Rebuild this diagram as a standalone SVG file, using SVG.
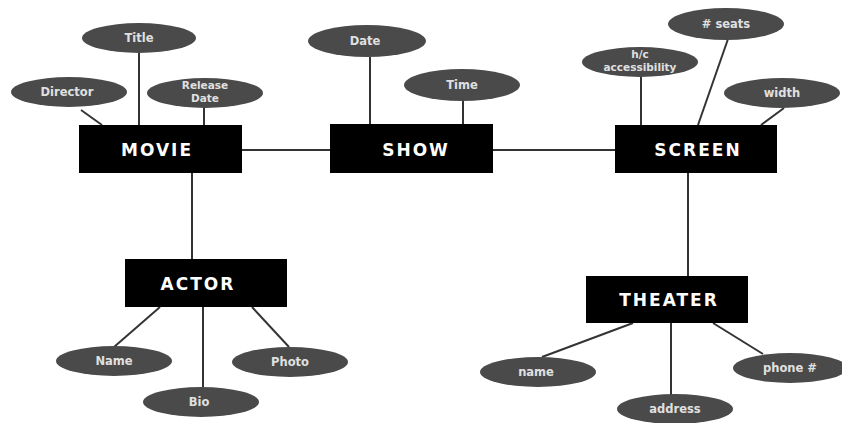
<svg xmlns="http://www.w3.org/2000/svg" width="842" height="423" viewBox="0 0 842 423">
  <style>
    .ent rect { fill: #000; }
    .ent text { fill: #fff; font-family: "DejaVu Sans", sans-serif; font-weight: bold; font-size: 17px; text-anchor: middle; letter-spacing: 2px; }
    .att ellipse { fill: #4a4a4a; }
    .att text { fill: #e0e0e0; font-family: "DejaVu Sans", sans-serif; font-weight: bold; font-size: 11.5px; text-anchor: middle; }
    .att text.two { font-size: 10.5px; }
    #connectors line { stroke: #333; stroke-width: 2; }
  </style>
  <rect width="842" height="423" fill="#fff"/>

  <g id="connectors">
    <line x1="242" y1="150" x2="330" y2="150"/>
    <line x1="493" y1="150" x2="615" y2="150"/>
    <line x1="192" y1="173" x2="192" y2="259"/>
    <line x1="688" y1="173" x2="688" y2="276"/>
    <!-- movie attributes -->
    <line x1="139" y1="53" x2="139" y2="125"/>
    <line x1="81" y1="110" x2="102" y2="125"/>
    <line x1="204" y1="108" x2="204" y2="125"/>
    <!-- show attributes -->
    <line x1="370" y1="57" x2="370" y2="124"/>
    <line x1="463" y1="100" x2="463" y2="124"/>
    <!-- screen attributes -->
    <line x1="641" y1="77" x2="641" y2="125"/>
    <line x1="728" y1="39" x2="698" y2="125"/>
    <line x1="784" y1="108" x2="761" y2="125"/>
    <!-- actor attributes -->
    <line x1="160" y1="307" x2="114" y2="347"/>
    <line x1="203" y1="307" x2="203" y2="387"/>
    <line x1="252" y1="307" x2="289" y2="347"/>
    <!-- theater attributes -->
    <line x1="633" y1="323" x2="542" y2="357"/>
    <line x1="671" y1="323" x2="671" y2="395"/>
    <line x1="713" y1="323" x2="763" y2="354"/>
  </g>

  <g id="movie" class="ent"><rect x="79" y="125" width="163" height="48"/><text x="157" y="156">MOVIE</text></g>
  <g id="show" class="ent"><rect x="330" y="124" width="163" height="49"/><text x="416" y="156">SHOW</text></g>
  <g id="screen" class="ent"><rect x="615" y="125" width="162" height="48"/><text x="698" y="156">SCREEN</text></g>
  <g id="actor" class="ent"><rect x="125" y="259" width="162" height="48"/><text x="198" y="290">ACTOR</text></g>
  <g id="theater" class="ent"><rect x="586" y="276" width="162" height="47"/><text x="669" y="306">THEATER</text></g>

  <g id="title" class="att"><ellipse cx="139" cy="38" rx="57" ry="15"/><text x="139" y="42">Title</text></g>
  <g id="director" class="att"><ellipse cx="69" cy="92" rx="58" ry="15"/><text x="67" y="96">Director</text></g>
  <g id="release-date" class="att"><ellipse cx="205" cy="93" rx="58" ry="15"/><text class="two" x="205" y="89">Release</text><text class="two" x="205" y="102">Date</text></g>

  <g id="date" class="att"><ellipse cx="367" cy="41" rx="59" ry="16"/><text x="365" y="45">Date</text></g>
  <g id="time" class="att"><ellipse cx="462" cy="85" rx="58" ry="16"/><text x="462" y="89">Time</text></g>

  <g id="hc-access" class="att"><ellipse cx="640" cy="62" rx="58" ry="15"/><text class="two" x="640" y="58">h/c</text><text class="two" x="640" y="71">accessibility</text></g>
  <g id="seats" class="att"><ellipse cx="726" cy="24" rx="58" ry="16"/><text x="726" y="28"># seats</text></g>
  <g id="width" class="att"><ellipse cx="782" cy="93" rx="58" ry="15"/><text x="782" y="97">width</text></g>

  <g id="name-actor" class="att"><ellipse cx="114" cy="361" rx="58" ry="15"/><text x="114" y="365">Name</text></g>
  <g id="bio" class="att"><ellipse cx="201" cy="402" rx="58" ry="15"/><text x="199" y="406">Bio</text></g>
  <g id="photo" class="att"><ellipse cx="290" cy="362" rx="58" ry="15"/><text x="290" y="366">Photo</text></g>

  <g id="name-theater" class="att"><ellipse cx="538" cy="372" rx="58" ry="15"/><text x="536" y="376">name</text></g>
  <g id="address" class="att"><ellipse cx="675" cy="409" rx="58" ry="15"/><text x="675" y="413">address</text></g>
  <g id="phone" class="att"><ellipse cx="790" cy="368" rx="57" ry="15"/><text x="790" y="372">phone #</text></g>
</svg>
